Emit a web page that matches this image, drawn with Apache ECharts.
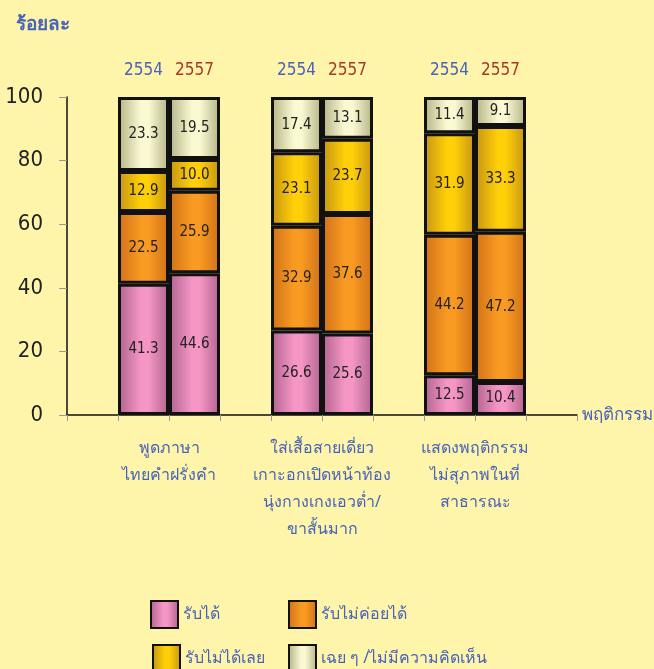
<!DOCTYPE html>
<html>
<head>
<meta charset="utf-8">
<script src="https://cdn.jsdelivr.net/npm/echarts@6/dist/echarts.min.js"></script>
<style>
  html, body { margin: 0; padding: 0; background: #fff5aa; }
  #main { width: 654px; height: 669px; }
</style>
</head>
<body>
<div id="main"></div>
<script>
var myChart = echarts.init(document.getElementById('main'));

// three behaviours, two survey years each
var groups = [
  'พูดภาษา\nไทยคำฝรั่งคำ',
  'ใส่เสื้อสายเดี่ยว\nเกาะอกเปิดหน้าท้อง\nนุ่งกางเกงเอวต่ำ/\nขาสั้นมาก',
  'แสดงพฤติกรรม\nไม่สุภาพในที่\nสาธารณะ'
];
var years = ['2554', '2557'];
var seriesNames = ['รับได้', 'รับไม่ค่อยได้', 'รับไม่ได้เลย', 'เฉย ๆ /ไม่มีความคิดเห็น'];

// values per bar: g1-2554, g1-2557, g2-2554, g2-2557, g3-2554, g3-2557
var accept = [41.3, 44.6, 26.6, 25.6, 12.5, 10.4];
var hardlyAccept = [22.5, 25.9, 32.9, 37.6, 44.2, 47.2];
var notAccept = [12.9, 10.0, 23.1, 23.7, 31.9, 33.3];
var neutral = [23.3, 19.5, 17.4, 13.1, 11.4, 9.1];

var yTicks = [0, 20, 40, 60, 80, 100];

// 10 slots on the axis: gap, bar, bar, gap, bar, bar, gap, bar, bar, gap
var barSlots = [1, 2, 4, 5, 7, 8];
function toSlots(vals) {
  var out = [];
  for (var i = 0; i < 10; i++) out.push('-');
  barSlots.forEach(function (s, k) { out[s] = vals[k]; });
  return out;
}
var slotNames = [];
for (var i = 0; i < 10; i++) slotNames.push('s' + i);
var yearOfSlot = {};
barSlots.forEach(function (s, k) { yearOfSlot[s] = years[k % 2]; });

// group labels sit on the tick between the two bars of a group
var boundaryLabels = [];
for (var i = 0; i <= 10; i++) boundaryLabels.push('b' + i);
var groupAt = { 2: groups[0], 5: groups[1], 8: groups[2] };

function grad(dark, light) {
  return new echarts.graphic.LinearGradient(0, 0, 1, 0, [
    { offset: 0, color: dark },
    { offset: 0.45, color: light },
    { offset: 0.6, color: light },
    { offset: 1, color: dark }
  ]);
}
var colors = [
  grad('#b06390', '#f596c4'),
  grad('#cf7118', '#f99a22'),
  grad('#c49414', '#ffcf08'),
  grad('#b3b385', '#fbf9d2')
];
var values = [accept, hardlyAccept, notAccept, neutral];

var thaiFont = '"Noto Sans", "DejaVu Sans", sans-serif';
var numFont = '"DejaVu Sans Condensed", "DejaVu Sans", sans-serif';
var blue = '#4863b8';

var series = seriesNames.map(function (name, i) {
  return {
    name: name,
    type: 'bar',
    stack: 'total',
    barWidth: '100%',
    data: toSlots(values[i]),
    itemStyle: { color: colors[i], borderColor: '#111', borderWidth: 3 },
    label: {
      show: true,
      position: 'inside',
      color: '#222',
      fontSize: 15,
      fontFamily: numFont,
      formatter: function (p) { return p.value.toFixed(1); }
    }
  };
});

// legend laid out as a 2x2 block, one legend per entry
var legendSpots = [[145, 595], [283, 595], [147, 639], [283, 639]];
var legends = seriesNames.map(function (name, i) {
  return {
    data: [name],
    left: legendSpots[i][0],
    top: legendSpots[i][1],
    itemWidth: 27, itemHeight: 27,
    icon: 'rect',
    textStyle: { color: blue, fontSize: 16, padding: i < 2 ? [0, 0, 12, 0] : [6, 0, 0, 0] }
  };
});

var option = {
  backgroundColor: '#fff5aa',
  animation: false,
  textStyle: { fontFamily: thaiFont },
  title: {
    text: 'ร้อยละ',
    left: 11,
    top: 10,
    textStyle: { color: blue, fontSize: 19, fontWeight: 'bold', fontFamily: thaiFont }
  },
  legend: legends,
  grid: { left: 67, right: 73, top: 97, bottom: 254 },
  xAxis: [
    {
      type: 'category',
      data: slotNames,
      axisLine: { lineStyle: { color: '#111', width: 1.5 } },
      axisTick: { show: true, length: 6, lineStyle: { color: '#999' } },
      axisLabel: { show: false },
      name: 'พฤติกรรม',
      nameLocation: 'end',
      nameGap: 5,
      nameTextStyle: { color: blue, fontSize: 17, verticalAlign: 'middle' }
    },
    {
      type: 'category',
      position: 'top',
      data: slotNames,
      axisLine: { show: false },
      axisTick: { show: false },
      axisLabel: {
        interval: 0,
        margin: 18,
        fontSize: 17,
        formatter: function (v, idx) {
          var y = yearOfSlot[idx];
          if (!y) return '';
          return y === years[0] ? '{a|' + y + '}' : '{b|' + y + '}';
        },
        rich: {
          a: { color: '#4863b8', fontSize: 17, fontFamily: numFont },
          b: { color: '#a8382a', fontSize: 17, fontFamily: numFont }
        }
      }
    },
    {
      type: 'category',
      position: 'bottom',
      boundaryGap: false,
      data: boundaryLabels,
      axisLine: { show: false },
      axisTick: { show: false },
      axisLabel: {
        interval: 0,
        margin: 20,
        color: blue,
        fontSize: 16,
        lineHeight: 27,
        align: 'center',
        formatter: function (v, idx) { return groupAt[idx] || ''; }
      }
    }
  ],
  yAxis: {
    type: 'value',
    min: yTicks[0],
    max: yTicks[yTicks.length - 1],
    interval: 20,
    axisLine: { show: true, lineStyle: { color: '#111', width: 1.5 } },
    axisTick: { show: true, length: 8, lineStyle: { color: '#999' } },
    splitLine: { show: false },
    axisLabel: {
      margin: 24,
      color: '#222',
      fontSize: 22,
      fontFamily: numFont
    }
  },
  series: series
};
myChart.setOption(option);
</script>
</body>
</html>
